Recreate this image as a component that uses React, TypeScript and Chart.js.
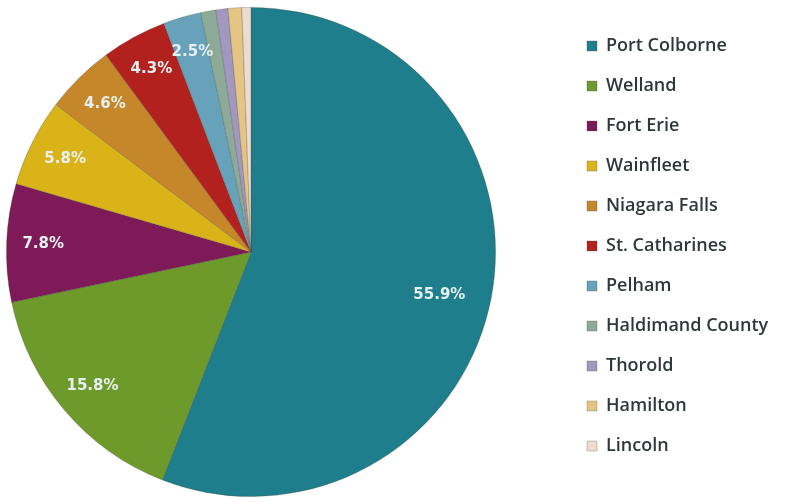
import React, { useEffect, useRef } from "react";
import { Chart, registerables } from "chart.js";

Chart.register(...registerables);

const categories = [
  "Port Colborne",
  "Welland",
  "Fort Erie",
  "Wainfleet",
  "Niagara Falls",
  "St. Catharines",
  "Pelham",
  "Haldimand County",
  "Thorold",
  "Hamilton",
  "Lincoln",
];

const shares = [55.9, 15.8, 7.8, 5.8, 4.6, 4.3, 2.5, 1.0, 0.8, 0.9, 0.6];

const sliceColors = [
  "#1E7E8B",
  "#6E9A2B",
  "#7E1A57",
  "#D9B318",
  "#C6872B",
  "#B3211F",
  "#66A2BA",
  "#8DAA98",
  "#A197BF",
  "#E4C583",
  "#EDDCCD",
];

const LABEL_MIN = 2;

const pctLabels = {
  id: "pctLabels",
  afterDatasetsDraw(chart: any) {
    const meta = chart.getDatasetMeta(0);
    const data = chart.data.datasets[0].data as number[];
    const ctx = chart.ctx;
    ctx.save();
    ctx.font = "bold 15px 'DejaVu Sans'";
    ctx.fillStyle = "#e6f0f0";
    ctx.textAlign = "center";
    ctx.textBaseline = "middle";
    meta.data.forEach((arc: any, i: number) => {
      const v = data[i];
      if (v < LABEL_MIN) return;
      const p = arc.getProps(["x", "y", "startAngle", "endAngle", "outerRadius"], true);
      const mid = (p.startAngle + p.endAngle) / 2 + (i === 0 ? 0.04 : 0);
      const f = i === 0 ? 0.79 : 0.85;
      const r = p.outerRadius * f;
      ctx.fillText(v.toFixed(1) + "%", p.x + Math.cos(mid) * r, p.y + Math.sin(mid) * r);
    });
    ctx.restore();
  },
};

const LEGEND_WIDTH = 296;
const LEGEND_BOX_X = 587;
const LEGEND_PAD = 22;
const LEGEND_TOP = 15;

const legendPlace = {
  id: "legendPlace",
  afterInit(chart: any) {
    const legend = chart.legend;
    if (!legend) return;
    const orig = legend.fit.bind(legend);
    legend.fit = function () {
      orig();
      this.width = LEGEND_WIDTH;
    };
  },
  afterLayout(chart: any) {
    const legend = chart.legend;
    if (!legend) return;
    legend.left = LEGEND_BOX_X - LEGEND_PAD;
    legend.top = LEGEND_TOP;
  },
};

const bgPlugin = {
  id: "bgWhite",
  beforeDraw(chart: any) {
    const ctx = chart.ctx;
    ctx.save();
    ctx.fillStyle = "#ffffff";
    ctx.fillRect(0, 0, chart.width, chart.height);
    ctx.restore();
  },
};

export default function App() {
  const ref = useRef<HTMLCanvasElement | null>(null);
  useEffect(() => {
    if (!ref.current) return;
    const chart = new Chart(ref.current, {
      type: "pie",
      data: {
        labels: categories,
        datasets: [
          {
            data: shares,
            backgroundColor: sliceColors,
            borderWidth: 0.8,
            borderColor: "rgba(70,70,70,0.35)",
          },
        ],
      },
      options: {
        animation: false,
        responsive: true,
        maintainAspectRatio: false,
        layout: { padding: { left: 6, right: 0, top: 4, bottom: 2 } },
        plugins: {
          legend: {
            position: "right",
            align: "start",
            labels: {
              boxWidth: 10,
              boxHeight: 10,
              padding: LEGEND_PAD,
              color: "#2f3838",
              font: { family: "'Open Sans'", size: 18, weight: "600" },
            },
          },
          tooltip: { enabled: false },
        },
      },
      plugins: [bgPlugin, pctLabels, legendPlace],
    });
    return () => chart.destroy();
  }, []);
  return (
    <div style={{ position: "fixed", left: 0, top: 0, width: 792, height: 502, background: "#fff" }}>
      <canvas ref={ref} width={792} height={502} />
    </div>
  );
}
